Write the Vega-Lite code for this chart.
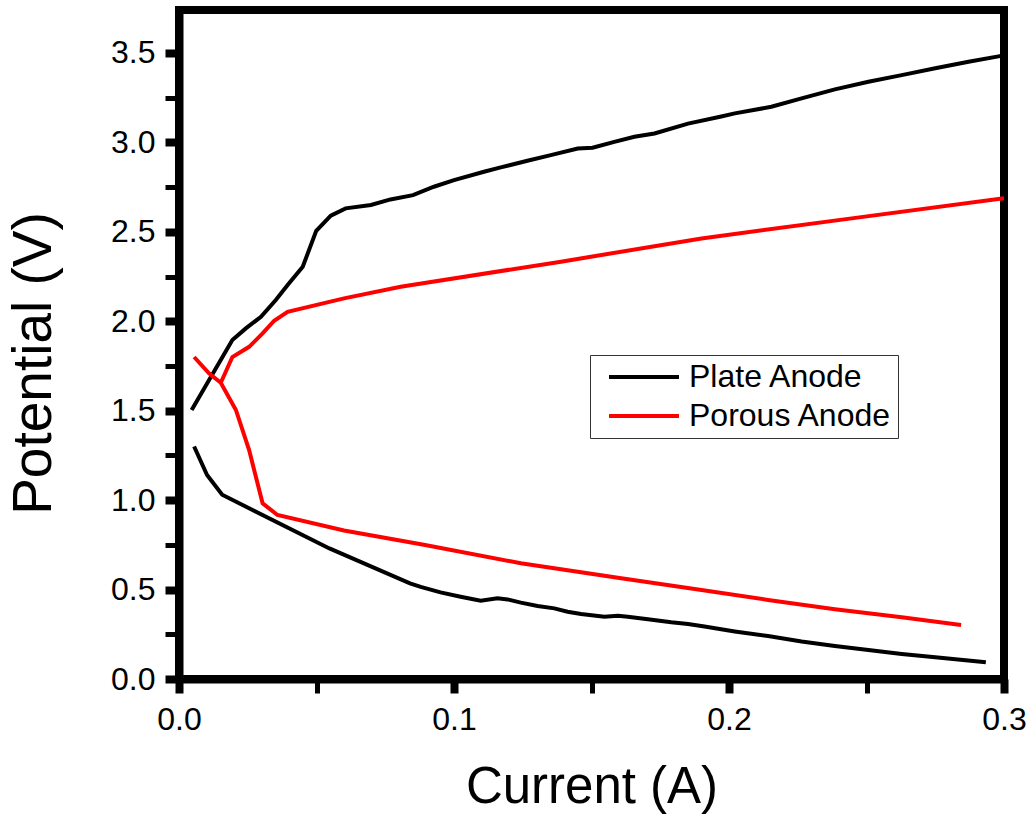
{
  "$schema": "https://vega.github.io/schema/vega-lite/v6.json",
  "autosize": {"type": "none"},
  "padding": {"left": 179, "top": 10, "right": 27, "bottom": 136},
  "width": 825,
  "height": 669,
  "background": "white",
  "config": {
    "view": {"stroke": "black", "strokeWidth": 8},
    "font": "Liberation Sans",
    "legend": {"strokeColor": "#333333", "fillColor": "white"},
    "axis": {
      "grid": false,
      "domainColor": "black",
      "domainWidth": 8,
      "tickColor": "black",
      "labelColor": "black",
      "titleColor": "black",
      "labelFont": "Liberation Sans",
      "titleFont": "Liberation Sans",
      "titleFontWeight": "normal",
      "labelFontSize": 32,
      "tickSize": 14
    }
  },
  "data": {
    "values": [
      {"series": "Plate Anode", "branch": "plate-up", "current": 0.0046, "potential": 1.504},
      {"series": "Plate Anode", "branch": "plate-up", "current": 0.0194, "potential": 1.895},
      {"series": "Plate Anode", "branch": "plate-up", "current": 0.0243, "potential": 1.96},
      {"series": "Plate Anode", "branch": "plate-up", "current": 0.0298, "potential": 2.025},
      {"series": "Plate Anode", "branch": "plate-up", "current": 0.0352, "potential": 2.119},
      {"series": "Plate Anode", "branch": "plate-up", "current": 0.0395, "potential": 2.202},
      {"series": "Plate Anode", "branch": "plate-up", "current": 0.045, "potential": 2.305},
      {"series": "Plate Anode", "branch": "plate-up", "current": 0.0499, "potential": 2.505},
      {"series": "Plate Anode", "branch": "plate-up", "current": 0.0552, "potential": 2.59},
      {"series": "Plate Anode", "branch": "plate-up", "current": 0.0606, "potential": 2.631},
      {"series": "Plate Anode", "branch": "plate-up", "current": 0.0698, "potential": 2.65},
      {"series": "Plate Anode", "branch": "plate-up", "current": 0.0769, "potential": 2.681},
      {"series": "Plate Anode", "branch": "plate-up", "current": 0.0851, "potential": 2.705},
      {"series": "Plate Anode", "branch": "plate-up", "current": 0.0927, "potential": 2.752},
      {"series": "Plate Anode", "branch": "plate-up", "current": 0.1, "potential": 2.789},
      {"series": "Plate Anode", "branch": "plate-up", "current": 0.1109, "potential": 2.836},
      {"series": "Plate Anode", "branch": "plate-up", "current": 0.117, "potential": 2.86},
      {"series": "Plate Anode", "branch": "plate-up", "current": 0.1267, "potential": 2.897},
      {"series": "Plate Anode", "branch": "plate-up", "current": 0.1352, "potential": 2.929},
      {"series": "Plate Anode", "branch": "plate-up", "current": 0.145, "potential": 2.966},
      {"series": "Plate Anode", "branch": "plate-up", "current": 0.1504, "potential": 2.97},
      {"series": "Plate Anode", "branch": "plate-up", "current": 0.1583, "potential": 3.003},
      {"series": "Plate Anode", "branch": "plate-up", "current": 0.1656, "potential": 3.031},
      {"series": "Plate Anode", "branch": "plate-up", "current": 0.1729, "potential": 3.05},
      {"series": "Plate Anode", "branch": "plate-up", "current": 0.1851, "potential": 3.105},
      {"series": "Plate Anode", "branch": "plate-up", "current": 0.1972, "potential": 3.145},
      {"series": "Plate Anode", "branch": "plate-up", "current": 0.2021, "potential": 3.162},
      {"series": "Plate Anode", "branch": "plate-up", "current": 0.2154, "potential": 3.199},
      {"series": "Plate Anode", "branch": "plate-up", "current": 0.2264, "potential": 3.246},
      {"series": "Plate Anode", "branch": "plate-up", "current": 0.2385, "potential": 3.296},
      {"series": "Plate Anode", "branch": "plate-up", "current": 0.2507, "potential": 3.339},
      {"series": "Plate Anode", "branch": "plate-up", "current": 0.2628, "potential": 3.376},
      {"series": "Plate Anode", "branch": "plate-up", "current": 0.275, "potential": 3.414},
      {"series": "Plate Anode", "branch": "plate-up", "current": 0.2871, "potential": 3.451},
      {"series": "Plate Anode", "branch": "plate-up", "current": 0.2995, "potential": 3.485},

      {"series": "Plate Anode", "branch": "plate-down", "current": 0.0055, "potential": 1.3},
      {"series": "Plate Anode", "branch": "plate-down", "current": 0.0102, "potential": 1.14},
      {"series": "Plate Anode", "branch": "plate-down", "current": 0.0157, "potential": 1.03},
      {"series": "Plate Anode", "branch": "plate-down", "current": 0.0547, "potential": 0.73},
      {"series": "Plate Anode", "branch": "plate-down", "current": 0.084, "potential": 0.535},
      {"series": "Plate Anode", "branch": "plate-down", "current": 0.0879, "potential": 0.515},
      {"series": "Plate Anode", "branch": "plate-down", "current": 0.0951, "potential": 0.484},
      {"series": "Plate Anode", "branch": "plate-down", "current": 0.1024, "potential": 0.46},
      {"series": "Plate Anode", "branch": "plate-down", "current": 0.1097, "potential": 0.438},
      {"series": "Plate Anode", "branch": "plate-down", "current": 0.1158, "potential": 0.451},
      {"series": "Plate Anode", "branch": "plate-down", "current": 0.1195, "potential": 0.445},
      {"series": "Plate Anode", "branch": "plate-down", "current": 0.1243, "potential": 0.427},
      {"series": "Plate Anode", "branch": "plate-down", "current": 0.1304, "potential": 0.408},
      {"series": "Plate Anode", "branch": "plate-down", "current": 0.1365, "potential": 0.395},
      {"series": "Plate Anode", "branch": "plate-down", "current": 0.1413, "potential": 0.376},
      {"series": "Plate Anode", "branch": "plate-down", "current": 0.1462, "potential": 0.363},
      {"series": "Plate Anode", "branch": "plate-down", "current": 0.1547, "potential": 0.348},
      {"series": "Plate Anode", "branch": "plate-down", "current": 0.1596, "potential": 0.354},
      {"series": "Plate Anode", "branch": "plate-down", "current": 0.1632, "potential": 0.348},
      {"series": "Plate Anode", "branch": "plate-down", "current": 0.1705, "potential": 0.334},
      {"series": "Plate Anode", "branch": "plate-down", "current": 0.179, "potential": 0.317},
      {"series": "Plate Anode", "branch": "plate-down", "current": 0.1851, "potential": 0.308},
      {"series": "Plate Anode", "branch": "plate-down", "current": 0.1911, "potential": 0.293},
      {"series": "Plate Anode", "branch": "plate-down", "current": 0.2021, "potential": 0.266},
      {"series": "Plate Anode", "branch": "plate-down", "current": 0.2142, "potential": 0.24},
      {"series": "Plate Anode", "branch": "plate-down", "current": 0.2264, "potential": 0.21},
      {"series": "Plate Anode", "branch": "plate-down", "current": 0.2385, "potential": 0.185},
      {"series": "Plate Anode", "branch": "plate-down", "current": 0.2507, "potential": 0.162},
      {"series": "Plate Anode", "branch": "plate-down", "current": 0.2628, "potential": 0.14},
      {"series": "Plate Anode", "branch": "plate-down", "current": 0.275, "potential": 0.121},
      {"series": "Plate Anode", "branch": "plate-down", "current": 0.2934, "potential": 0.093},

      {"series": "Porous Anode", "branch": "porous-up", "current": 0.0152, "potential": 1.656},
      {"series": "Porous Anode", "branch": "porous-up", "current": 0.0194, "potential": 1.8},
      {"series": "Porous Anode", "branch": "porous-up", "current": 0.0255, "potential": 1.857},
      {"series": "Porous Anode", "branch": "porous-up", "current": 0.0304, "potential": 1.932},
      {"series": "Porous Anode", "branch": "porous-up", "current": 0.0346, "potential": 2.003},
      {"series": "Porous Anode", "branch": "porous-up", "current": 0.0395, "potential": 2.053},
      {"series": "Porous Anode", "branch": "porous-up", "current": 0.06, "potential": 2.128},
      {"series": "Porous Anode", "branch": "porous-up", "current": 0.0806, "potential": 2.193},
      {"series": "Porous Anode", "branch": "porous-up", "current": 0.1389, "potential": 2.333},
      {"series": "Porous Anode", "branch": "porous-up", "current": 0.19, "potential": 2.463},
      {"series": "Porous Anode", "branch": "porous-up", "current": 0.2446, "potential": 2.575},
      {"series": "Porous Anode", "branch": "porous-up", "current": 0.3, "potential": 2.687},

      {"series": "Porous Anode", "branch": "porous-down", "current": 0.0055, "potential": 1.8},
      {"series": "Porous Anode", "branch": "porous-down", "current": 0.0109, "potential": 1.709},
      {"series": "Porous Anode", "branch": "porous-down", "current": 0.0152, "potential": 1.656},
      {"series": "Porous Anode", "branch": "porous-down", "current": 0.0207, "potential": 1.504},
      {"series": "Porous Anode", "branch": "porous-down", "current": 0.0255, "potential": 1.28},
      {"series": "Porous Anode", "branch": "porous-down", "current": 0.0304, "potential": 0.982},
      {"series": "Porous Anode", "branch": "porous-down", "current": 0.0358, "potential": 0.917},
      {"series": "Porous Anode", "branch": "porous-down", "current": 0.06, "potential": 0.83},
      {"series": "Porous Anode", "branch": "porous-down", "current": 0.0895, "potential": 0.749},
      {"series": "Porous Anode", "branch": "porous-down", "current": 0.1243, "potential": 0.647},
      {"series": "Porous Anode", "branch": "porous-down", "current": 0.1608, "potential": 0.563},
      {"series": "Porous Anode", "branch": "porous-down", "current": 0.19, "potential": 0.497},
      {"series": "Porous Anode", "branch": "porous-down", "current": 0.2142, "potential": 0.442},
      {"series": "Porous Anode", "branch": "porous-down", "current": 0.2385, "potential": 0.39},
      {"series": "Porous Anode", "branch": "porous-down", "current": 0.2628, "potential": 0.345},
      {"series": "Porous Anode", "branch": "porous-down", "current": 0.2844, "potential": 0.302}
    ]
  },
  "mark": {"type": "line", "strokeWidth": 4, "clip": true},
  "encoding": {
    "x": {
      "field": "current",
      "type": "quantitative",
      "scale": {"domain": [0, 0.3], "nice": false, "zero": false},
      "axis": {
        "title": "Current (A)",
        "titleFontSize": 51,
        "titleBaseline": "alphabetic",
        "titleY": 123,
        "values": [0, 0.05, 0.1, 0.15, 0.2, 0.25, 0.3],
        "labelExpr": "round(datum.value*100) % 10 == 0 ? format(datum.value, '.1f') : ''",
        "tickSize": 14,
        "tickWidth": {"condition": {"test": "round(datum.value*100) % 10 == 0", "value": 8}, "value": 5},
        "labelBaseline": "alphabetic",
        "labelPadding": 36,
        "labelFlush": false,
        "encode": {
          "ticks": {"update": {"y2": {"signal": "round(datum.value*100) % 10 == 0 ? 14 : 7"}}}
        }
      }
    },
    "y": {
      "field": "potential",
      "type": "quantitative",
      "scale": {"domain": [0, 3.74], "nice": false, "zero": false},
      "axis": {
        "title": "Potential (V)",
        "titleFontSize": 55,
        "titleBaseline": "alphabetic",
        "titleX": -129,
        "titleY": 353,
        "values": [0, 0.25, 0.5, 0.75, 1, 1.25, 1.5, 1.75, 2, 2.25, 2.5, 2.75, 3, 3.25, 3.5],
        "labelExpr": "round(datum.value*100) % 50 == 0 ? format(datum.value, '.1f') : ''",
        "tickSize": 14,
        "tickWidth": {"condition": {"test": "round(datum.value*100) % 50 == 0", "value": 8}, "value": 5},
        "labelPadding": 10,
        "labelFlush": false,
        "encode": {
          "ticks": {"update": {"x2": {"signal": "round(datum.value*100) % 50 == 0 ? -14 : -7"}}}
        }
      }
    },
    "color": {
      "field": "series",
      "type": "nominal",
      "scale": {"domain": ["Plate Anode", "Porous Anode"], "range": ["black", "#ff0000"]},
      "legend": {
        "title": null,
        "orient": "none",
        "legendX": 411,
        "legendY": 345,
        "symbolType": "M-5,0H5",
        "symbolSize": 196,
        "symbolStrokeWidth": 4,
        "symbolOffset": 32,
        "labelFontSize": 32,
        "labelFont": "Liberation Sans",
        "labelColor": "black",
        "labelLimit": 400,
        "labelOffset": 29,
        "padding": 6,
        "rowPadding": 7
      }
    },
    "detail": {"field": "branch", "type": "nominal"}
  }
}
